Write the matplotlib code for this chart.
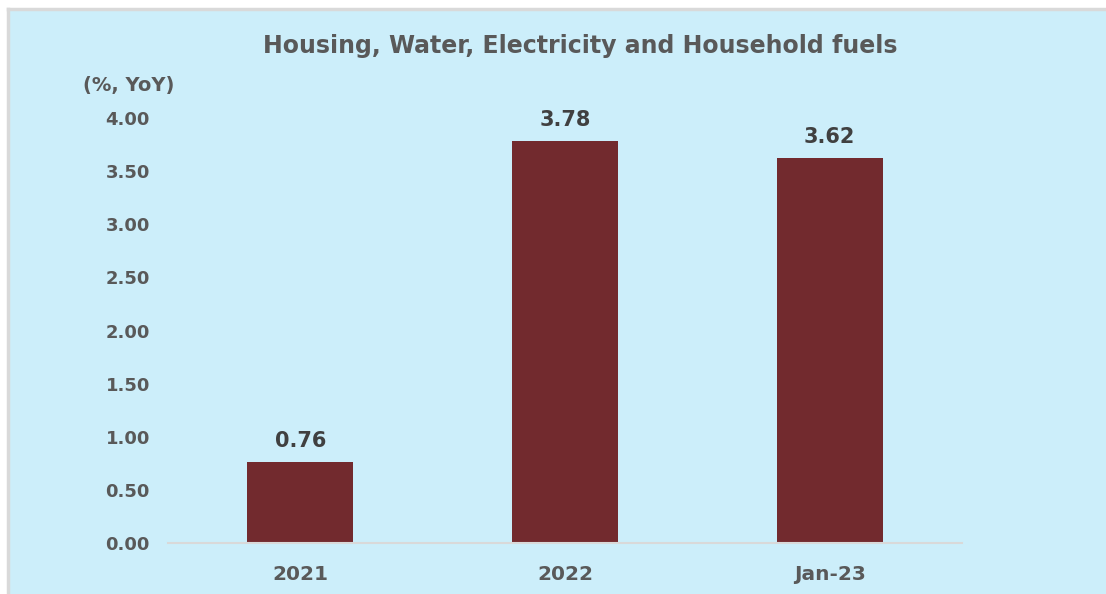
import matplotlib.pyplot as plt
from matplotlib.patches import Rectangle
from matplotlib.lines import Line2D


categories = ["2021", "2022", "Jan-23"]
values = [0.76, 3.78, 3.62]
y_ticks = [0.0, 0.5, 1.0, 1.5, 2.0, 2.5, 3.0, 3.5, 4.0]

BG = "#CCEEFA"
BAR = "#722A2E"
GREY_TEXT = "#595959"
DARK_TEXT = "#404040"

plt.rcParams["font.family"] = ["DejaVu Sans"]

W, H = 1106, 594
fig = plt.figure(figsize=(W / 100, H / 100), dpi=100)
fig.patch.set_facecolor("white")

# light blue chart area with grey border on top and left
fig.patches.append(
    Rectangle((8 / W, 0), 1 - 8 / W, 1 - 9 / H, transform=fig.transFigure,
              facecolor=BG, edgecolor="none", zorder=-5)
)
fig.lines.append(Line2D([8 / W, 1], [1 - 9 / H, 1 - 9 / H], transform=fig.transFigure,
                        color="#D9D9D9", linewidth=2.5, zorder=-4))
fig.lines.append(Line2D([8 / W, 8 / W], [0, 1 - 9 / H], transform=fig.transFigure,
                        color="#D9D9D9", linewidth=2.5, zorder=-4))

ax = fig.add_axes([168 / W, 1 - 543 / H, (962 - 168) / W, (543 - 118) / H])
ax.set_facecolor("none")
ax.set_zorder(2)

x = range(len(categories))
bars = ax.bar(x, values, width=0.4, color=BAR, zorder=2)

for bar, v in zip(bars, values):
    ax.annotate(f"{v:.2f}", (bar.get_x() + bar.get_width() / 2, v),
                xytext=(0, 8), textcoords="offset points",
                ha="center", va="bottom", fontsize=15, fontweight="bold",
                color=DARK_TEXT)

ax.set_xlim(-0.5, len(categories) - 0.5)
ax.set_ylim(0, 4.0)
ax.set_yticks(y_ticks)
ax.set_yticklabels([f"{t:.2f}" for t in y_ticks], fontsize=13,
                   fontweight="bold", color=GREY_TEXT)
ax.set_xticks(list(x))
ax.set_xticklabels(categories, fontsize=14.5, fontweight="bold", color=GREY_TEXT)
ax.tick_params(axis="y", length=0, pad=13)
ax.tick_params(axis="x", length=0, pad=16)

for side in ["top", "right", "left"]:
    ax.spines[side].set_visible(False)
ax.spines["bottom"].set_color("#D9D9D9")
ax.spines["bottom"].set_linewidth(1.5)

fig.text(580 / W, 1 - 46 / H, "Housing, Water, Electricity and Household fuels",
         ha="center", va="center", fontsize=17, fontweight="bold", color=GREY_TEXT)
fig.text(129 / W, 1 - 85 / H, "(%, YoY)", ha="center", va="center",
         fontsize=14, fontweight="bold", color=GREY_TEXT)

fig.savefig("out.png", dpi=100)
